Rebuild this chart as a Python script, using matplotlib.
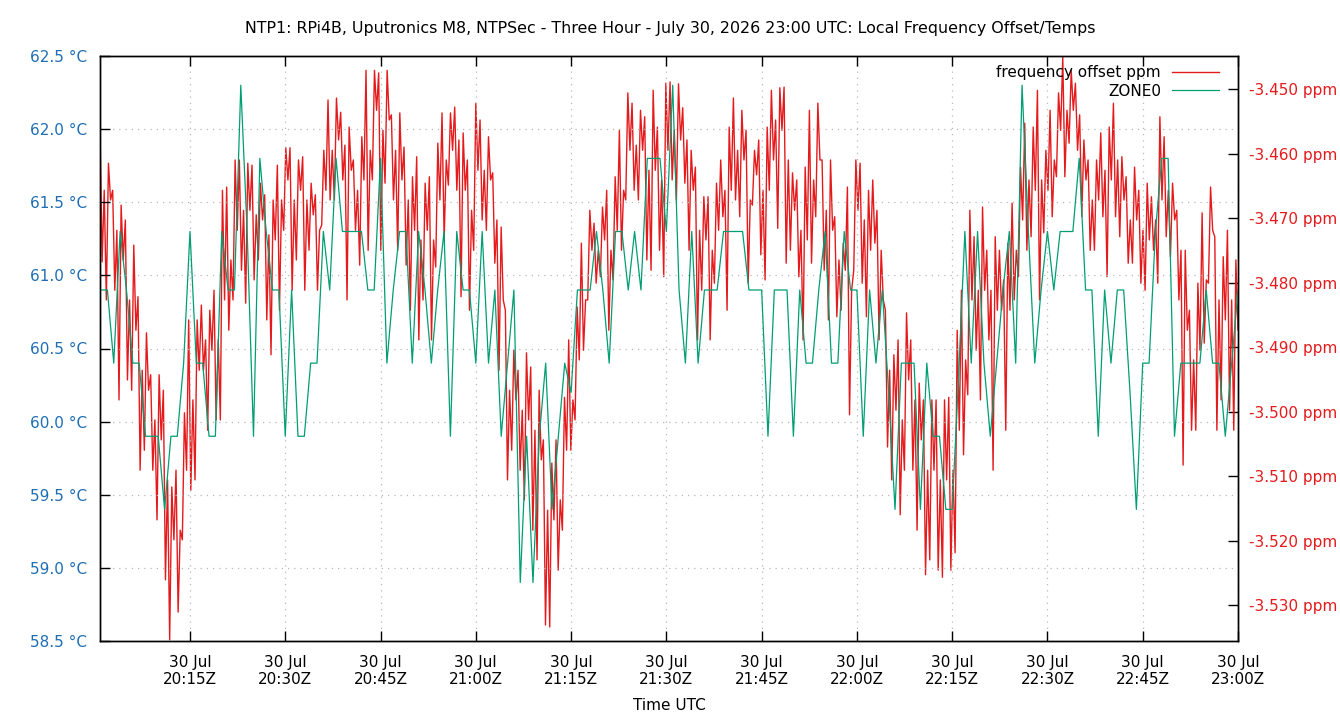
import numpy as np
import matplotlib
matplotlib.use("Agg")
import matplotlib.pyplot as plt
import matplotlib.dates as mdates
from matplotlib.ticker import FixedLocator, FuncFormatter
from datetime import datetime, timedelta

# ------------------ Data ------------------
t0 = datetime(2026, 7, 30, 20, 0, 0)

# ZONE0 temperature, one reading per minute (20:01 .. 23:00), degC
zone0_temp = [
    60.9, 60.9, 60.4, 61.3, 60.9, 60.4, 60.4, 59.9, 59.9, 59.9,
    59.4, 59.9, 59.9, 60.4, 61.3, 60.4, 60.4, 59.9, 59.9, 61.3,
    60.9, 60.9, 62.3, 61.3, 59.9, 61.8, 61.3, 60.9, 60.9, 59.9,
    60.9, 59.9, 59.9, 60.4, 60.4, 61.3, 60.9, 61.8, 61.3, 61.3,
    61.3, 61.3, 60.9, 60.9, 61.8, 60.4, 60.9, 61.3, 61.3, 60.4,
    61.3, 60.9, 60.4, 60.9, 61.3, 59.9, 61.3, 60.9, 60.9, 60.4,
    61.3, 60.4, 60.9, 59.9, 60.4, 60.9, 58.9, 59.9, 58.9, 59.9,
    60.4, 59.4, 59.9, 60.4, 60.2, 60.9, 60.9, 60.9, 61.3, 60.9,
    60.4, 61.3, 61.3, 60.9, 61.3, 60.9, 61.8, 61.8, 61.8, 61.3,
    62.3, 60.9, 60.4, 61.3, 60.4, 60.9, 60.9, 60.9, 61.3, 61.3,
    61.3, 61.3, 60.9, 60.9, 60.9, 59.9, 60.9, 60.9, 60.9, 59.9,
    60.9, 60.4, 60.4, 60.9, 61.3, 60.4, 60.4, 61.3, 60.9, 60.9,
    59.9, 60.9, 60.4, 60.9, 60.2, 59.4, 60.4, 60.4, 60.4, 59.4,
    60.4, 59.9, 59.9, 59.4, 59.4, 60.3, 61.3, 60.4, 61.3, 60.4,
    59.9, 60.4, 60.9, 61.3, 60.4, 62.3, 61.3, 60.4, 60.9, 61.3,
    60.9, 61.3, 61.3, 61.3, 61.8, 60.9, 60.9, 59.9, 60.9, 60.4,
    60.9, 60.9, 60.2, 59.4, 60.4, 60.4, 61.3, 61.8, 61.8, 59.9,
    60.4, 60.4, 60.4, 60.4, 60.9, 60.4, 60.4, 59.9, 60.4, 60.9,
]
zone0_minutes = list(range(1, 181))

# Frequency offset, ppm (three samples per minute, 20:00:50 .. 23:00)
freq_ppm = [
    -3.4560, -3.4768, -3.4657,  -3.4827, -3.4615, -3.4672,  -3.4657, -3.4812, -3.4719,
    -3.4982, -3.4680, -3.4765,  -3.4703, -3.4951, -3.4827,  -3.4967, -3.4742, -3.4874,
    -3.4822, -3.5091, -3.4936,  -3.5060, -3.4878, -3.4967,  -3.4943, -3.5091, -3.5013,
    -3.5168, -3.4943, -3.5044,  -3.4967, -3.5261, -3.5106,  -3.5354, -3.5117, -3.5199,
    -3.5091, -3.5311, -3.5184,  -3.5199, -3.5002, -3.5091,  -3.4858, -3.5122, -3.4982,
    -3.5106, -3.4858, -3.4936,  -3.4835, -3.4936, -3.4889,  -3.5029, -3.4843, -3.4905,
    -3.4812, -3.5013, -3.4889,  -3.5013, -3.4657, -3.4827,  -3.4652, -3.4874, -3.4765,
    -3.4827, -3.4610, -3.4719,  -3.4610, -3.4781, -3.4688,  -3.4832, -3.4615, -3.4688,
    -3.4618, -3.4796, -3.4695,  -3.4765, -3.4646, -3.4703,  -3.4664, -3.4858, -3.4726,
    -3.4912, -3.4672, -3.4734,  -3.4618, -3.4843, -3.4672,  -3.4719, -3.4591, -3.4641,
    -3.4591, -3.4812, -3.4672,  -3.4765, -3.4610, -3.4657,  -3.4605, -3.4812, -3.4672,
    -3.4750, -3.4646, -3.4695,  -3.4664, -3.4812, -3.4719,  -3.4711, -3.4595, -3.4657,
    -3.4517, -3.4672, -3.4595,  -3.4672, -3.4514, -3.4579,  -3.4536, -3.4641, -3.4587,
    -3.4827, -3.4559, -3.4626,  -3.4610, -3.4719, -3.4657,  -3.4773, -3.4574, -3.4641,
    -3.4471, -3.4750, -3.4595,  -3.4641, -3.4471, -3.4533,  -3.4475, -3.4750, -3.4564,
    -3.4646, -3.4471, -3.4548,  -3.4540, -3.4672, -3.4595,  -3.4750, -3.4537, -3.4641,
    -3.4590, -3.4773, -3.4672,  -3.4843, -3.4636, -3.4719,  -3.4605, -3.4889, -3.4734,
    -3.4827, -3.4646, -3.4719,  -3.4636, -3.4889, -3.4734,  -3.4776, -3.4584, -3.4672,
    -3.4537, -3.4734, -3.4610,  -3.4649, -3.4537, -3.4595,  -3.4528, -3.4657, -3.4579,
    -3.4822, -3.4568, -3.4657,  -3.4610, -3.4843, -3.4688,  -3.4750, -3.4522, -3.4626,
    -3.4548, -3.4703, -3.4626,  -3.4719, -3.4574, -3.4641,  -3.4630, -3.4770, -3.4703,
    -3.4936, -3.4714, -3.4827,  -3.4843, -3.5106, -3.4967,  -3.5060, -3.4905, -3.4982,
    -3.4936, -3.5091, -3.4998,  -3.5137, -3.4909, -3.5013,  -3.4931, -3.5184, -3.5029,
    -3.5230, -3.4967, -3.5075,  -3.5044, -3.5331, -3.5153,  -3.5334, -3.5080, -3.5168,
    -3.5044, -3.5246, -3.5137,  -3.5184, -3.4978, -3.5060,  -3.4889, -3.5060, -3.4982,
    -3.5013, -3.4838, -3.4920,  -3.4739, -3.4905, -3.4827,  -3.4827, -3.4688, -3.4750,
    -3.4708, -3.4801, -3.4750,  -3.4791, -3.4683, -3.4734,  -3.4657, -3.4874, -3.4750,
    -3.4796, -3.4636, -3.4719,  -3.4564, -3.4750, -3.4657,  -3.4672, -3.4506, -3.4595,
    -3.4522, -3.4657, -3.4587,  -3.4672, -3.4533, -3.4595,  -3.4543, -3.4765, -3.4626,
    -3.4781, -3.4502, -3.4626,  -3.4559, -3.4750, -3.4641,  -3.4791, -3.4491, -3.4595,
    -3.4489, -3.4641, -3.4564,  -3.4672, -3.4492, -3.4579,  -3.4529, -3.4646, -3.4579,
    -3.4750, -3.4595, -3.4657,  -3.4621, -3.4889, -3.4719,  -3.4812, -3.4667, -3.4734,
    -3.4667, -3.4889, -3.4750,  -3.4801, -3.4646, -3.4719,  -3.4610, -3.4698, -3.4657,
    -3.4843, -3.4559, -3.4657,  -3.4514, -3.4672, -3.4595,  -3.4698, -3.4533, -3.4610,
    -3.4564, -3.4801, -3.4672,  -3.4680, -3.4595, -3.4633,  -3.4579, -3.4757, -3.4657,
    -3.4796, -3.4559, -3.4657,  -3.4502, -3.4610, -3.4548,  -3.4716, -3.4498, -3.4564,
    -3.4497, -3.4770, -3.4610,  -3.4750, -3.4630, -3.4688,  -3.4641, -3.4791, -3.4719,
    -3.4889, -3.4621, -3.4734,  -3.4533, -3.4770, -3.4641,  -3.4698, -3.4522, -3.4610,
    -3.4610, -3.4781, -3.4688,  -3.4858, -3.4610, -3.4719,  -3.4698, -3.4853, -3.4765,
    -3.4843, -3.4739, -3.4781,  -3.4652, -3.5005, -3.4812,  -3.4781, -3.4610, -3.4688,
    -3.4615, -3.4801, -3.4703,  -3.4853, -3.4657, -3.4750,  -3.4641, -3.4739, -3.4688,
    -3.4889, -3.4750, -3.4827,  -3.4843, -3.5055, -3.4936,  -3.5106, -3.4912, -3.4998,
    -3.4889, -3.5160, -3.5013,  -3.5091, -3.4847, -3.4951,  -3.4889, -3.5091, -3.4982,
    -3.5184, -3.4956, -3.5044,  -3.4982, -3.5253, -3.5091,  -3.5230, -3.4982, -3.5091,
    -3.4982, -3.5246, -3.5106,  -3.5257, -3.4982, -3.5106,  -3.4978, -3.5246, -3.5091,
    -3.5219, -3.4874, -3.5029,  -3.4812, -3.5067, -3.4920,  -3.4974, -3.4688, -3.4827,
    -3.4729, -3.4905, -3.4812,  -3.4982, -3.4683, -3.4812,  -3.4750, -3.4889, -3.4812,
    -3.5091, -3.4729, -3.4843,  -3.4750, -3.4843, -3.4796,  -3.5029, -3.4739, -3.4843,
    -3.4677, -3.4827, -3.4750,  -3.4791, -3.4621, -3.4703,  -3.4553, -3.4750, -3.4641,
    -3.4729, -3.4559, -3.4657,  -3.4502, -3.4827, -3.4641,  -3.4723, -3.4595, -3.4657,
    -3.4533, -3.4698, -3.4610,  -3.4636, -3.4506, -3.4564,  -3.4450, -3.4636, -3.4533,
    -3.4584, -3.4471, -3.4533,  -3.4491, -3.4595, -3.4540,  -3.4698, -3.4579, -3.4641,
    -3.4610, -3.4750, -3.4672,  -3.4750, -3.4610, -3.4672,  -3.4568, -3.4698, -3.4626,
    -3.4791, -3.4559, -3.4641,  -3.4522, -3.4698, -3.4610,  -3.4729, -3.4605, -3.4672,
    -3.4636, -3.4770, -3.4703,  -3.4770, -3.4621, -3.4703,  -3.4657, -3.4801, -3.4719,
    -3.4812, -3.4646, -3.4734,  -3.4667, -3.4750, -3.4703,  -3.4801, -3.4543, -3.4672,
    -3.4574, -3.4729, -3.4657,  -3.4760, -3.4646, -3.4703,  -3.4688, -3.4827, -3.4750,
    -3.5083, -3.4750, -3.4874,  -3.4843, -3.5029, -3.4920,  -3.5029, -3.4801, -3.4905,
    -3.4692, -3.4894, -3.4796,  -3.4801, -3.4652, -3.4719,  -3.4729, -3.5029, -3.4827,
    -3.4982, -3.4760, -3.4858,  -3.4719, -3.4998, -3.4827,  -3.5029, -3.4765, -3.4874,
]
freq_start_s = 50
freq_end_s = 3 * 3600

temp_ticks = [58.5, 59.0, 59.5, 60.0, 60.5, 61.0, 61.5, 62.0, 62.5]
ppm_ticks = [-3.53, -3.52, -3.51, -3.50, -3.49, -3.48, -3.47, -3.46, -3.45]

title = ("NTP1: RPi4B, Uputronics M8, NTPSec - Three Hour - July 30, 2026 23:00 UTC: "
         "Local Frequency Offset/Temps")

# ------------------ Times ------------------
zone0_times = [t0 + timedelta(minutes=m) for m in zone0_minutes]
freq_secs = np.linspace(freq_start_s, freq_end_s, len(freq_ppm))
freq_times = [t0 + timedelta(seconds=float(s)) for s in freq_secs]

# ------------------ Style ------------------
RED = "#e41a1c"
GREEN = "#009e73"
BLUE = "#1f6db3"
FS = 11

plt.rcParams.update({"font.family": "DejaVu Sans", "font.size": FS})

fig = plt.figure(figsize=(13.4, 7.2), dpi=100)
ax = fig.add_axes([100 / 1340, 1 - 641 / 720, 1138 / 1340, 585 / 720])
ax2 = ax.twinx()

# red on the right (ppm) axis, green on the left (temp) axis drawn on top
l_red, = ax2.plot(freq_times, freq_ppm, color=RED, lw=1.0)
l_green, = ax.plot(zone0_times, zone0_temp, color=GREEN, lw=0.9)
ax.set_zorder(ax2.get_zorder() + 1)
ax.patch.set_visible(False)

ax.set_xlim(freq_times[0], t0 + timedelta(hours=3))
ax.set_ylim(58.5, 62.5)
ax2.set_ylim(-3.53558, -3.44488)

ax.yaxis.set_major_locator(FixedLocator(temp_ticks))
ax.yaxis.set_major_formatter(FuncFormatter(lambda v, p: f"{v:.1f} °C"))
ax2.yaxis.set_major_locator(FixedLocator(ppm_ticks))
ax2.yaxis.set_major_formatter(FuncFormatter(lambda v, p: f"{v:.3f} ppm"))

ax.xaxis.set_major_locator(mdates.MinuteLocator(byminute=[0, 15, 30, 45]))
ax.xaxis.set_major_formatter(mdates.DateFormatter("%d %b\n%H:%MZ"))

ax.tick_params(axis="x", direction="in", length=7, width=1, top=True,
               labelsize=FS, pad=10, colors="black")
ax.tick_params(axis="y", direction="in", length=7, width=1, left=True, right=False,
               labelsize=FS, pad=9, labelcolor=BLUE)
ax2.tick_params(axis="y", direction="in", length=7, width=1,
                labelsize=FS, pad=8, labelcolor=RED)
ax2.tick_params(axis="x", top=False, bottom=False)

for a in (ax, ax2):
    for s in a.spines.values():
        s.set_linewidth(1.0)
        s.set_color("black")

ax.grid(True, color="#b8b8b8", linestyle=(0, (1, 4)), linewidth=0.9)

leg = ax.legend([l_red, l_green], ["frequency offset ppm", "ZONE0"],
                loc="upper right", bbox_to_anchor=(0.9833, 0.9846),
                frameon=False, markerfirst=False, fontsize=FS,
                handlelength=3.1, handletextpad=0.7, labelspacing=0.25,
                borderpad=0, borderaxespad=0)

fig.text(0.5, 1 - 28 / 720, title, ha="center", va="center", fontsize=11.4)
fig.text(669 / 1340, 1 - 706 / 720, "Time UTC", ha="center", va="center", fontsize=FS)

fig.savefig("out.png", dpi=100)
